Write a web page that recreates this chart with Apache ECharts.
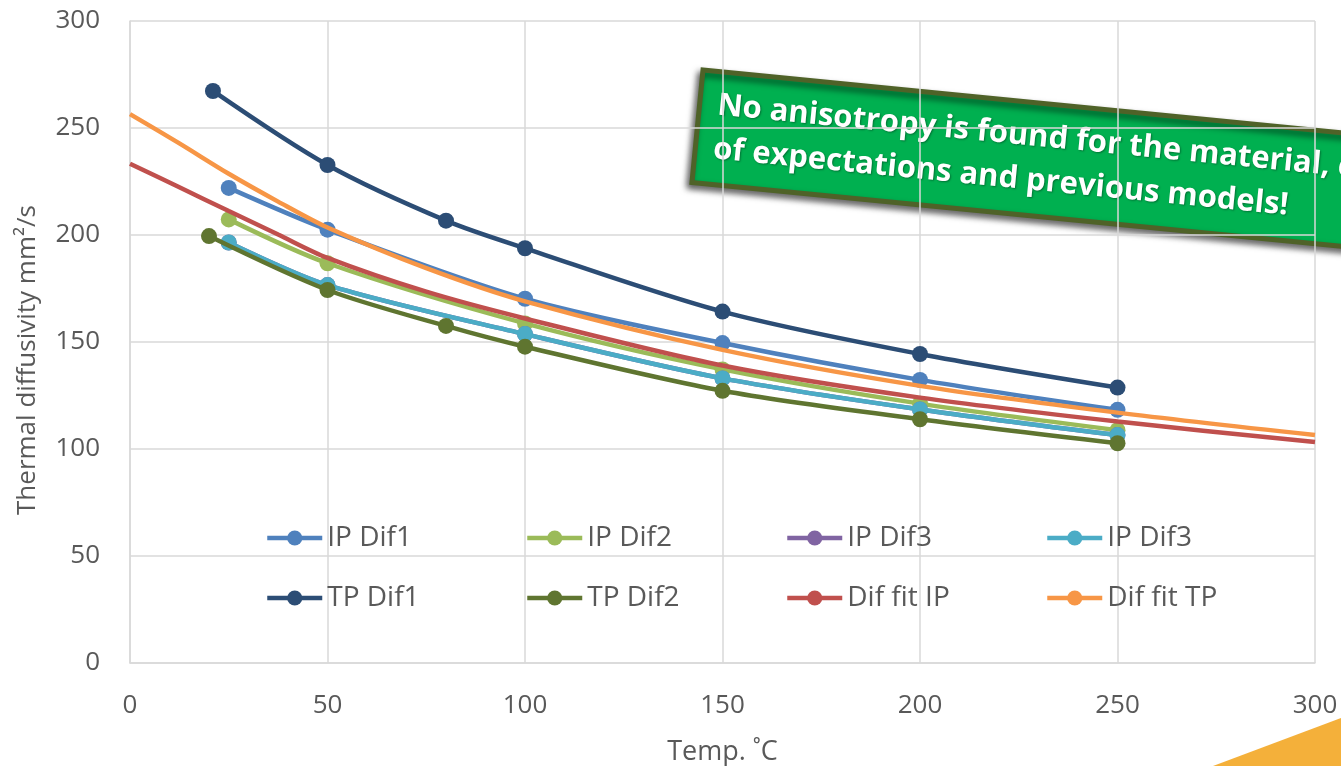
<!DOCTYPE html>
<html>
<head>
<meta charset="utf-8">
<script src="https://cdn.jsdelivr.net/npm/echarts@6/dist/echarts.min.js"></script>
<style>
html,body{margin:0;padding:0;background:#fff;}
#chart{width:1341px;height:766px;}
</style>
</head>
<body>
<div id="chart"></div>
<script>
// ---- data ----
const xTicks = [0, 50, 100, 150, 200, 250, 300];
const ipX = [25, 50, 100, 150, 200, 250];
const ipDif1 = [222, 202.5, 170.2, 149.5, 132.3, 118.3];
const ipDif2 = [207.3, 186.8, 158.7, 137.2, 121.2, 108.8];
const ipDif3a = [196.5, 176.6, 153.7, 133.0, 118.5, 106.5];
const ipDif3b = [196.5, 176.6, 153.7, 133.0, 118.5, 106.5];
const tp1X = [21, 50, 80, 100, 150, 200, 250];
const tpDif1 = [267.3, 232.7, 206.7, 193.8, 164.2, 144.4, 128.7];
const tp2X = [20, 50, 80, 100, 150, 200, 250];
const tpDif2 = [199.5, 174.3, 157.5, 147.8, 127.2, 113.9, 102.7];
const fitX = [0, 12.5, 25, 37.5, 50, 75, 100, 150, 200, 250, 300];
const fitIP = [233.3, 222.3, 211.2, 200.2, 189.3, 173.5, 161.0, 139.0, 124.0, 112.8, 103.3];
const fitTP = [256.5, 242.8, 228.6, 215.6, 203.5, 184.5, 169.0, 146.3, 129.5, 117.0, 106.5];
const seriesNames = ['IP Dif1', 'IP Dif2', 'IP Dif3', 'IP Dif3 ', 'TP Dif1', 'TP Dif2', 'Dif fit IP', 'Dif fit TP'];
const colors = ['#4f81bd', '#9bbb59', '#8064a2', '#4bacc6', '#2c4d75', '#5f7530', '#c0504d', '#f79646'];
const noteLine1 = 'No anisotropy is found for the material, contrary';
const noteLine2 = 'of expectations and previous models!';

const pair = (xs, ys) => xs.map((x, i) => [x, ys[i]]);
const FONT = '"Open Sans", "DejaVu Sans", sans-serif';

const dataSets = [
  pair(ipX, ipDif1), pair(ipX, ipDif2), pair(ipX, ipDif3a), pair(ipX, ipDif3b),
  pair(tp1X, tpDif1), pair(tp2X, tpDif2), pair(fitX, fitIP), pair(fitX, fitTP)
];

const series = seriesNames.map((name, i) => {
  const isFit = i >= 6;
  return {
    name: name,
    type: 'line',
    data: dataSets[i],
    smooth: 0.3,
    showSymbol: !isFit,
    symbol: isFit ? 'none' : 'circle',
    symbolSize: 16,
    itemStyle: { color: colors[i] },
    lineStyle: { color: colors[i], width: 4.5 },
    z: 2 + i,
    silent: true,
    animation: false
  };
});

const legendCols = [265, 525, 785, 1045];
const legendRows = [524, 584];
const legends = seriesNames.map((name, i) => ({
  data: [name],
  left: legendCols[i % 4],
  top: legendRows[Math.floor(i / 4)],
  padding: 0,
  itemWidth: 55,
  itemHeight: 19,
  lineStyle: { width: 4.5 },
  textStyle: { fontSize: 28, color: '#595959', fontFamily: FONT },
  selectedMode: false
}));

const chart = echarts.init(document.getElementById('chart'), null, { renderer: 'canvas' });
chart.setOption({
  animation: false,
  backgroundColor: '#ffffff',
  textStyle: { fontFamily: FONT },
  grid: { left: 130, right: 26, top: 21, bottom: 103, containLabel: false, outerBoundsMode: 'none' },
  xAxis: {
    type: 'value', min: 0, max: 300, interval: 50,
    name: 'Temp. ˚C', nameLocation: 'middle', nameGap: 76,
    nameTextStyle: { fontSize: 27, color: '#595959', fontFamily: FONT },
    axisLine: { lineStyle: { color: '#d9d9d9', width: 1.5 } },
    axisTick: { show: false },
    axisLabel: { fontSize: 26, color: '#595959', margin: 30, fontFamily: FONT },
    splitLine: { lineStyle: { color: '#d9d9d9', width: 1.5 } }
  },
  yAxis: {
    type: 'value', min: 0, max: 300, interval: 50,
    name: 'Thermal diffusivity mm²/s', nameLocation: 'middle', nameGap: 89,
    nameTextStyle: { fontSize: 26, color: '#595959', fontFamily: FONT, padding: [0, 36, 0, 0] },
    axisLine: { show: true, lineStyle: { color: '#d9d9d9', width: 1.5 } },
    axisTick: { show: false },
    axisLabel: { fontSize: 26, color: '#595959', margin: 30, fontFamily: FONT },
    splitLine: { lineStyle: { color: '#d9d9d9', width: 1.5 } }
  },
  legend: legends,
  series: series,
  graphic: [
    {
      type: 'group',
      x: 703, y: 70,
      rotation: -0.098,
      z: 100,
      children: [
        {
          type: 'rect',
          shape: { x: 0, y: 0, width: 780, height: 113 },
          style: {
            fill: '#00b050', stroke: '#4f6228', lineWidth: 5,
            shadowBlur: 6, shadowColor: 'rgba(0,0,0,0.55)', shadowOffsetX: -3, shadowOffsetY: 4
          }
        },
        {
          type: 'text',
          x: 18, y: 12,
          style: {
            text: noteLine1 + '\n' + noteLine2,
            fill: '#ffffff', fontSize: 31, fontWeight: 'bold', fontFamily: FONT,
            lineHeight: 44,
            textShadowColor: 'rgba(0,0,0,0.35)', textShadowBlur: 2, textShadowOffsetX: 1, textShadowOffsetY: 1
          }
        }
      ]
    },
    {
      type: 'polygon',
      z: 100,
      shape: { points: [[1213, 766], [1341, 718], [1341, 766]] },
      style: { fill: '#f4b03a' }
    }
  ]
});
</script>
</body>
</html>
